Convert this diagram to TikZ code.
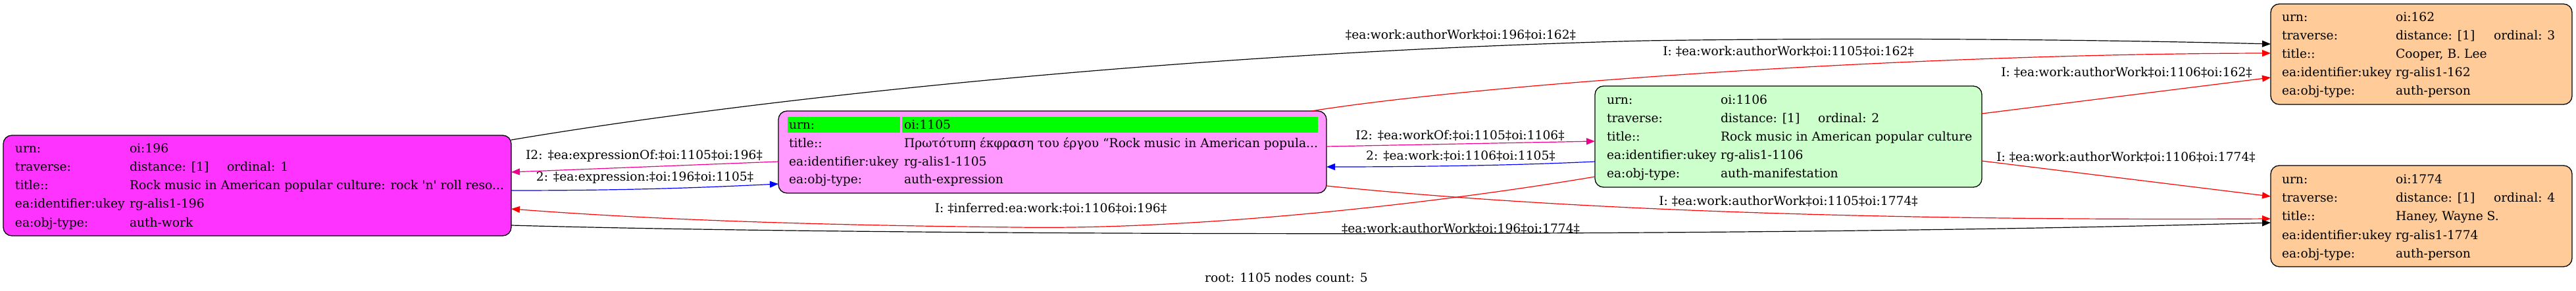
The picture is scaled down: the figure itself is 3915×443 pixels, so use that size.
\documentclass[tikz,border=0pt]{standalone}
\usepackage{fontspec}
\setmainfont{DejaVu Serif}[Ligatures=TeXOff]
\usetikzlibrary{arrows.meta,calc}
\definecolor{workc}{HTML}{FF33FF}
\definecolor{exprc}{HTML}{FF99FF}
\definecolor{manifc}{HTML}{CCFFCC}
\definecolor{personc}{HTML}{FFCC99}
\definecolor{hlc}{HTML}{00FF00}
\newcommand{\cellnode}[4]{\node[cell] (#1) at (#2,#3) {#4};}
\begin{document}
\begin{tikzpicture}[x=1pt,y=-1pt,
  txt/.style={font=\fontsize{18.67}{22}\selectfont, inner sep=0pt, outer sep=0pt},
  cell/.style={txt, anchor=base west},
  elabel/.style={txt, anchor=base},
  box/.style={draw=black, line width=1.3pt, rounded corners=13pt, inner sep=0pt, outer sep=0pt},
  edge/.style={line width=1.2pt, -{Triangle[length=13pt,width=10pt]}}
]
\useasboundingbox (0,0) rectangle (3915,443);

% boxes
\node[box, fill=workc, minimum width=772pt, minimum height=153pt] (n196) at (391,282.5) {};
\node[box, fill=exprc, minimum width=833pt, minimum height=125pt] (n1105) at (1599.5,231.5) {};
\node[box, fill=manifc, minimum width=588pt, minimum height=154pt] (n1106) at (2718,208) {};
\node[box, fill=personc, minimum width=458pt, minimum height=153pt] (n162) at (3680,82.5) {};
\node[box, fill=personc, minimum width=458pt, minimum height=154pt] (n1774) at (3680,329) {};

% highlight of root row
\fill[hlc] (1197,178) rectangle (1368,202);
\fill[hlc] (1371,178) rectangle (2003,202);

% node 196
\cellnode{a1}{23}{233}{urn:}
\cellnode{a1v}{197}{233}{oi:196}
\cellnode{a2}{23}{261}{traverse:}
\cellnode{a2v}{197}{261}{distance: [1]}
\cellnode{a2o}{345}{261}{ordinal: 1}
\cellnode{a3}{23}{289}{title::}
\cellnode{a3v}{197}{289}{Rock music in American popular culture: rock 'n' roll reso...}
\cellnode{a4}{23}{317}{ea:identifier:ukey}
\cellnode{a4v}{197}{317}{rg-alis1-196}
\cellnode{a5}{23}{345}{ea:obj-type:}
\cellnode{a5v}{197}{345}{auth-work}

% node 1105
\cellnode{b1}{1199}{197}{urn:}
\cellnode{b1v}{1374}{197}{oi:1105}
\cellnode{b3}{1199}{225}{title::}
\cellnode{b3v}{1374}{225}{Πρωτότυπη έκφραση του έργου “Rock music in American popula...}
\cellnode{b4}{1199}{253}{ea:identifier:ukey}
\cellnode{b4v}{1374}{253}{rg-alis1-1105}
\cellnode{b5}{1199}{280}{ea:obj-type:}
\cellnode{b5v}{1374}{280}{auth-expression}

% node 1106
\cellnode{c1}{2442}{159}{urn:}
\cellnode{c1v}{2615}{159}{oi:1106}
\cellnode{c2}{2442}{187}{traverse:}
\cellnode{c2v}{2615}{187}{distance: [1]}
\cellnode{c2o}{2763}{187}{ordinal: 2}
\cellnode{c3}{2442}{215}{title::}
\cellnode{c3v}{2615}{215}{Rock music in American popular culture}
\cellnode{c4}{2442}{243}{ea:identifier:ukey}
\cellnode{c4v}{2615}{243}{rg-alis1-1106}
\cellnode{c5}{2442}{271}{ea:obj-type:}
\cellnode{c5v}{2615}{271}{auth-manifestation}

% node 162
\cellnode{d1}{3468}{33}{urn:}
\cellnode{d1v}{3641}{33}{oi:162}
\cellnode{d2}{3468}{61}{traverse:}
\cellnode{d2v}{3641}{61}{distance: [1]}
\cellnode{d2o}{3790}{61}{ordinal: 3}
\cellnode{d3}{3468}{89}{title::}
\cellnode{d3v}{3641}{89}{Cooper, B. Lee}
\cellnode{d4}{3468}{117}{ea:identifier:ukey}
\cellnode{d4v}{3641}{117}{rg-alis1-162}
\cellnode{d5}{3468}{145}{ea:obj-type:}
\cellnode{d5v}{3641}{145}{auth-person}

% node 1774
\cellnode{e1}{3468}{280}{urn:}
\cellnode{e1v}{3641}{280}{oi:1774}
\cellnode{e2}{3468}{308}{traverse:}
\cellnode{e2v}{3641}{308}{distance: [1]}
\cellnode{e2o}{3790}{308}{ordinal: 4}
\cellnode{e3}{3468}{336}{title::}
\cellnode{e3v}{3641}{336}{Haney, Wayne S.}
\cellnode{e4}{3468}{364}{ea:identifier:ukey}
\cellnode{e4v}{3641}{364}{rg-alis1-1774}
\cellnode{e5}{3468}{392}{ea:obj-type:}
\cellnode{e5v}{3641}{392}{auth-person}

% edges
\draw[edge, black] ([yshift=-7pt]n196.north east) .. controls (1150,150) and (1800,80) .. (2500,62) .. controls (2900,56) and (3250,62) .. ([yshift=-61pt]n162.north west);
\draw[edge, red] ([xshift=-23pt]n1105.north east) .. controls (2250,128) and (2900,82) .. ([yshift=-75pt]n162.north west);
\draw[edge, red] ([yshift=-42pt]n1106.north east) -- ([yshift=-112pt]n162.north west);
\draw[edge, magenta] ([yshift=-77pt]n1105.north west) -- ([yshift=-56pt]n196.north east);
\draw[edge, blue] ([yshift=-84pt]n196.north east) .. controls (950,290) and (1060,286) .. ([yshift=-111pt]n1105.north west);
\draw[edge, magenta] ([yshift=-54pt]n1105.north east) -- ([yshift=-84pt]n1106.north west);
\draw[edge, blue] ([yshift=-115pt]n1106.north west) .. controls (2300,252) and (2150,254) .. ([yshift=-85pt]n1105.north east);
\draw[edge, red] ([yshift=-138pt]n1106.north west) .. controls (2150,315) and (1800,350) .. (1546,346) .. controls (1250,343) and (1000,335) .. ([yshift=-112pt]n196.north east);
\draw[edge, red] ([yshift=-114pt]n1105.north east) .. controls (2400,322) and (2900,336) .. ([yshift=-81pt]n1774.north west);
\draw[edge, red] ([yshift=-114pt]n1106.north east) -- ([yshift=-47pt]n1774.north west);
\draw[edge, black] ([yshift=-137pt]n196.north east) .. controls (1300,358) and (2600,363) .. ([yshift=-87pt]n1774.north west);

% edge labels
\node[elabel] (l1) at (2220,60) {‡ea:work:authorWork‡oi:196‡oi:162‡};
\node[elabel] (l2) at (2718,85) {I: ‡ea:work:authorWork‡oi:1105‡oi:162‡};
\node[elabel] (l3) at (3232,117) {I: ‡ea:work:authorWork‡oi:1106‡oi:162‡};
\node[elabel] (l4) at (979,243) {I2: ‡ea:expressionOf:‡oi:1105‡oi:196‡};
\node[elabel] (l5) at (980,276) {2: ‡ea:expression:‡oi:196‡oi:1105‡};
\node[elabel] (l6) at (2219,213) {I2: ‡ea:workOf:‡oi:1105‡oi:1106‡};
\node[elabel] (l7) at (2220,244) {2: ‡ea:work:‡oi:1106‡oi:1105‡};
\node[elabel] (l8) at (1597,324) {I: ‡inferred:ea:work:‡oi:1106‡oi:196‡};
\node[elabel] (l9) at (2718,313) {I: ‡ea:work:authorWork‡oi:1105‡oi:1774‡};
\node[elabel] (l10) at (3231,246) {I: ‡ea:work:authorWork‡oi:1106‡oi:1774‡};
\node[elabel] (l11) at (2220,355) {‡ea:work:authorWork‡oi:196‡oi:1774‡};

\node[elabel] (title) at (1955,429) {root: 1105 nodes count: 5};
\end{tikzpicture}
\end{document}
